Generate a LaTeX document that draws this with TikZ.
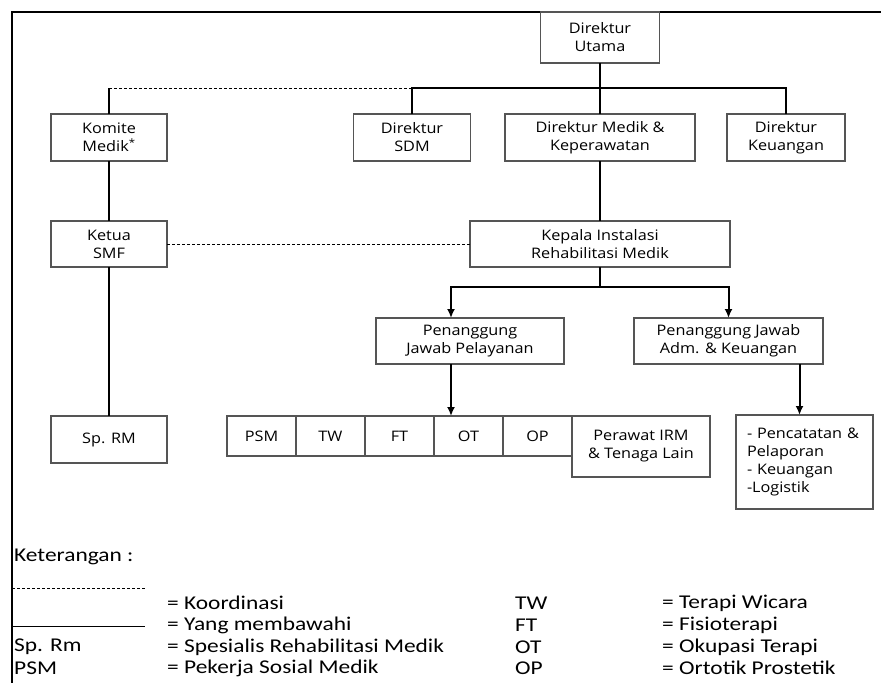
\documentclass[tikz,border=0pt]{standalone}
\usepackage{fontspec}
\usepackage{tikz}
\usetikzlibrary{arrows.meta, positioning}
\newfontfamily\boxfont[FakeStretch=1.12]{Open Sans}
\newfontfamily\legfont[FakeStretch=1.2]{Carlito}
\definecolor{boxLine}{HTML}{555555}

\begin{document}
\begin{tikzpicture}[
    x=1pt, y=-1pt,
    unit/.style={rectangle, draw=boxLine, line width=1.2pt, fill=white, align=center, inner sep=2pt, outer sep=0pt, font=\boxfont\fontsize{14.5}{18}\selectfont},
    cell/.style={unit, minimum width=69pt, minimum height=40pt},
    link/.style={line width=2pt},
    coord/.style={line width=0.8pt, dashed, dash pattern=on 3pt off 2pt},
    down/.style={link, -{Latex[length=9pt, width=8pt]}},
    leg/.style={anchor=west, inner sep=0pt, font=\legfont\fontsize{19.5}{22}\selectfont},
]
    \useasboundingbox (0,0) rectangle (881,683);
    % frame
    \draw[line width=1.6pt] (881,12) -- (12,12) -- (12,683);

    % top level
    \node[unit, minimum width=119pt, minimum height=51pt] (utama) at (600,37.5) {Direktur\\Utama};
    \node[unit, minimum width=116pt, minimum height=47pt] (komite) at (109,137.5) {Komite\\Medik\textsuperscript{*}};
    \node[unit, minimum width=117pt, minimum height=47pt] (sdm) at (412,137.5) {Direktur\\SDM};
    \node[unit, minimum width=190pt, minimum height=47pt] (medik) at (600,137.5) {Direktur Medik \&\\Keperawatan};
    \node[unit, minimum width=118pt, minimum height=47pt] (keu) at (786,137.5) {Direktur\\Keuangan};
    \coordinate (bus) at (600,88);

    % second level
    \node[unit, minimum width=116pt, minimum height=46pt] (ketua) at (109,244) {Ketua\\SMF};
    \node[unit, minimum width=260pt, minimum height=46pt] (kepala) at (600,244) {Kepala Instalasi\\Rehabilitasi Medik};
    \node[unit, minimum width=188pt, minimum height=46pt] (pjpel) at (470,341) {Penanggung\\Jawab Pelayanan};
    \node[unit, minimum width=189pt, minimum height=46pt] (pjadm) at (728.5,341) {Penanggung Jawab\\Adm. \& Keuangan};
    \coordinate (split) at (600,287);
    \coordinate (pelx) at (451,0);

    % staff row
    \node[unit, minimum width=116pt, minimum height=47pt] (sprm) at (109,439.5) {Sp. RM};
    \node[cell] (psm) at (261.5,436) {PSM};
    \node[cell, right=0pt of psm] (tw) {TW};
    \node[cell, right=0pt of tw] (ft) {FT};
    \node[cell, right=0pt of ft] (ot) {OT};
    \node[cell, right=0pt of ot] (op) {OP};
    \node[unit, anchor=north west, minimum width=138pt, minimum height=61pt] (perawat) at (op.north east) {Perawat IRM\\\& Tenaga Lain};
    \node[unit, anchor=north west, minimum width=137pt, minimum height=94pt, text width=115pt, align=left] (catat) at (736,415) {- Pencatatan \&\\Pelaporan\\- Keuangan\\-Logistik};

    % connectors
    \draw[link] (utama.south) -- (medik.north);
    \draw[link] (sdm.north) |- (bus) -| (keu.north);
    \draw[link] (komite.north) -- (komite.north |- bus);
    \draw[coord] (komite.north |- bus) -- (sdm.north |- bus);
    \draw[link] (komite.south) -- (ketua.north);
    \draw[link] (ketua.south) -- (sprm.north);
    \draw[coord] (ketua.east) -- (kepala.west);
    \draw[link] (medik.south) -- (kepala.north);
    \draw[link] (kepala.south) -- (split);
    \draw[down] (split) -| (pjpel.north -| pelx);
    \draw[down] (split) -| (pjadm.north);
    \draw[down] (pjpel.south -| pelx) -- (ot.north -| pelx);
    \draw[down] ([xshift=-5pt]pjadm.south -| catat.north) -- ([xshift=-5pt]catat.north);

    % legend
    \node[leg] (ket) at (14,557) {Keterangan :};
    \draw[coord] (12,588) -- (145,588);
    \draw[line width=1pt] (12,626) -- (145,626);
    \node[leg] (koord) at (167,603) {= Koordinasi};
    \node[leg] (bawah) at (167,625) {= Yang membawahi};
    \node[leg] (k1) at (14,647) {Sp. Rm};
    \node[leg] (d1) at (167,647) {= Spesialis Rehabilitasi Medik};
    \node[leg] (k2) at (14,668) {PSM};
    \node[leg] (d2) at (167,668) {= Pekerja Sosial Medik};
    \node[leg] (k3) at (515,603) {TW};
    \node[leg] (d3) at (662,603) {= Terapi Wicara};
    \node[leg] (k4) at (515,625) {FT};
    \node[leg] (d4) at (662,625) {= Fisioterapi};
    \node[leg] (k5) at (515,647) {OT};
    \node[leg] (d5) at (662,647) {= Okupasi Terapi};
    \node[leg] (k6) at (515,668) {OP};
    \node[leg] (d6) at (662,668) {= Ortotik Prostetik};
\end{tikzpicture}
\end{document}
